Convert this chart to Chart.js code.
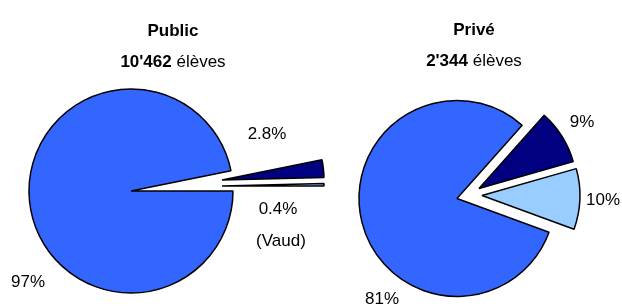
<!DOCTYPE html>
<html>
<head>
<meta charset="utf-8">
<script src="https://cdn.jsdelivr.net/npm/chart.js@4/dist/chart.umd.min.js"></script>
<style>
  html, body { margin: 0; padding: 0; background: #fff; }
  body {
    width: 622px; height: 306px; position: relative; overflow: hidden;
    font-family: "Liberation Sans", Arial, sans-serif; color: #000;
  }
  canvas { position: absolute; }
  .txt {
    position: absolute; z-index: 2; transform: translate(-50%, -50%);
    font-size: 17px; line-height: 1; white-space: nowrap;
  }
  .b { font-weight: bold; }
</style>
</head>
<body>
<div id="texts"></div>

<script>
// ---------- DATA ----------
const CATEGORIES      = ["Genève", "Hors canton", "Vaud"];
const PUBLIC_VALUES   = [97, 2.8, 0.4];
const PRIVATE_VALUES  = [81, 9, 10];
const PUBLIC_TITLE    = ["Public", "10'462", "élèves"];
const PRIVATE_TITLE   = ["Privé", "2'344", "élèves"];
const NOTE_VAUD       = "(Vaud)";

const COLORS = ["#3366FF", "#000080", "#99CCFF"];

// ---------- PIE ----------
// one canvas per slice so every exploded slice can be pulled out
// by its own vector without Chart.js growing its radius
function makePie(values, opts) {
  opts.shift.forEach((d, i) => {
    const c = document.createElement("canvas");
    c.width = opts.width;
    c.height = 306;
    c.style.left = (opts.left + d[0]) + "px";
    c.style.top = d[1] + "px";
    document.body.appendChild(c);

    new Chart(c.getContext("2d"), {
      type: "pie",
      data: {
        labels: CATEGORIES,
        datasets: [{
          data: values,
          backgroundColor: COLORS.map((col, j) => j === i ? col : "rgba(0,0,0,0)"),
          borderColor: COLORS.map((_, j) => j === i ? "#000" : "rgba(0,0,0,0)"),
          borderWidth: 1.5
        }]
      },
      options: {
        responsive: false,
        animation: false,
        rotation: opts.rotation,
        radius: opts.radius,
        layout: { padding: opts.padding },
        plugins: { legend: { display: false }, tooltip: { enabled: false } }
      }
    });
  });
}

makePie(PUBLIC_VALUES, {
  left: 0, width: 326,
  shift: [[0, 0], [91, -11], [91, -5]],
  rotation: 90,
  radius: 102,
  padding: { left: 0, right: 64, top: 76, bottom: 0 }
});

makePie(PRIVATE_VALUES, {
  left: 326, width: 296,
  shift: [[0, 0], [22, -10], [25, -3]],
  rotation: 110.1,
  radius: 98,
  padding: { left: 0, right: 34, top: 91, bottom: 0 }
});

// ---------- TEXT ----------
const box = document.getElementById("texts");
function put(html, x, y, cls) {
  const d = document.createElement("div");
  d.className = "txt" + (cls ? " " + cls : "");
  d.style.left = x + "px";
  d.style.top = y + "px";
  d.innerHTML = html;
  box.appendChild(d);
}
const pct = v => v + "%";

put(PUBLIC_TITLE[0], 173, 30, "b");
put(`<b>${PUBLIC_TITLE[1]}</b> ${PUBLIC_TITLE[2]}`, 173, 61);
put(PRIVATE_TITLE[0], 474, 29, "b");
put(`<b>${PRIVATE_TITLE[1]}</b> ${PRIVATE_TITLE[2]}`, 474, 60);

put(pct(PUBLIC_VALUES[0]), 28, 281);
put(pct(PUBLIC_VALUES[1]), 267, 133);
put(pct(PUBLIC_VALUES[2]), 278, 208);
put(NOTE_VAUD, 281, 240);

put(pct(PRIVATE_VALUES[0]), 382, 298);
put(pct(PRIVATE_VALUES[1]), 582, 121);
put(pct(PRIVATE_VALUES[2]), 603, 199);
</script>
</body>
</html>
